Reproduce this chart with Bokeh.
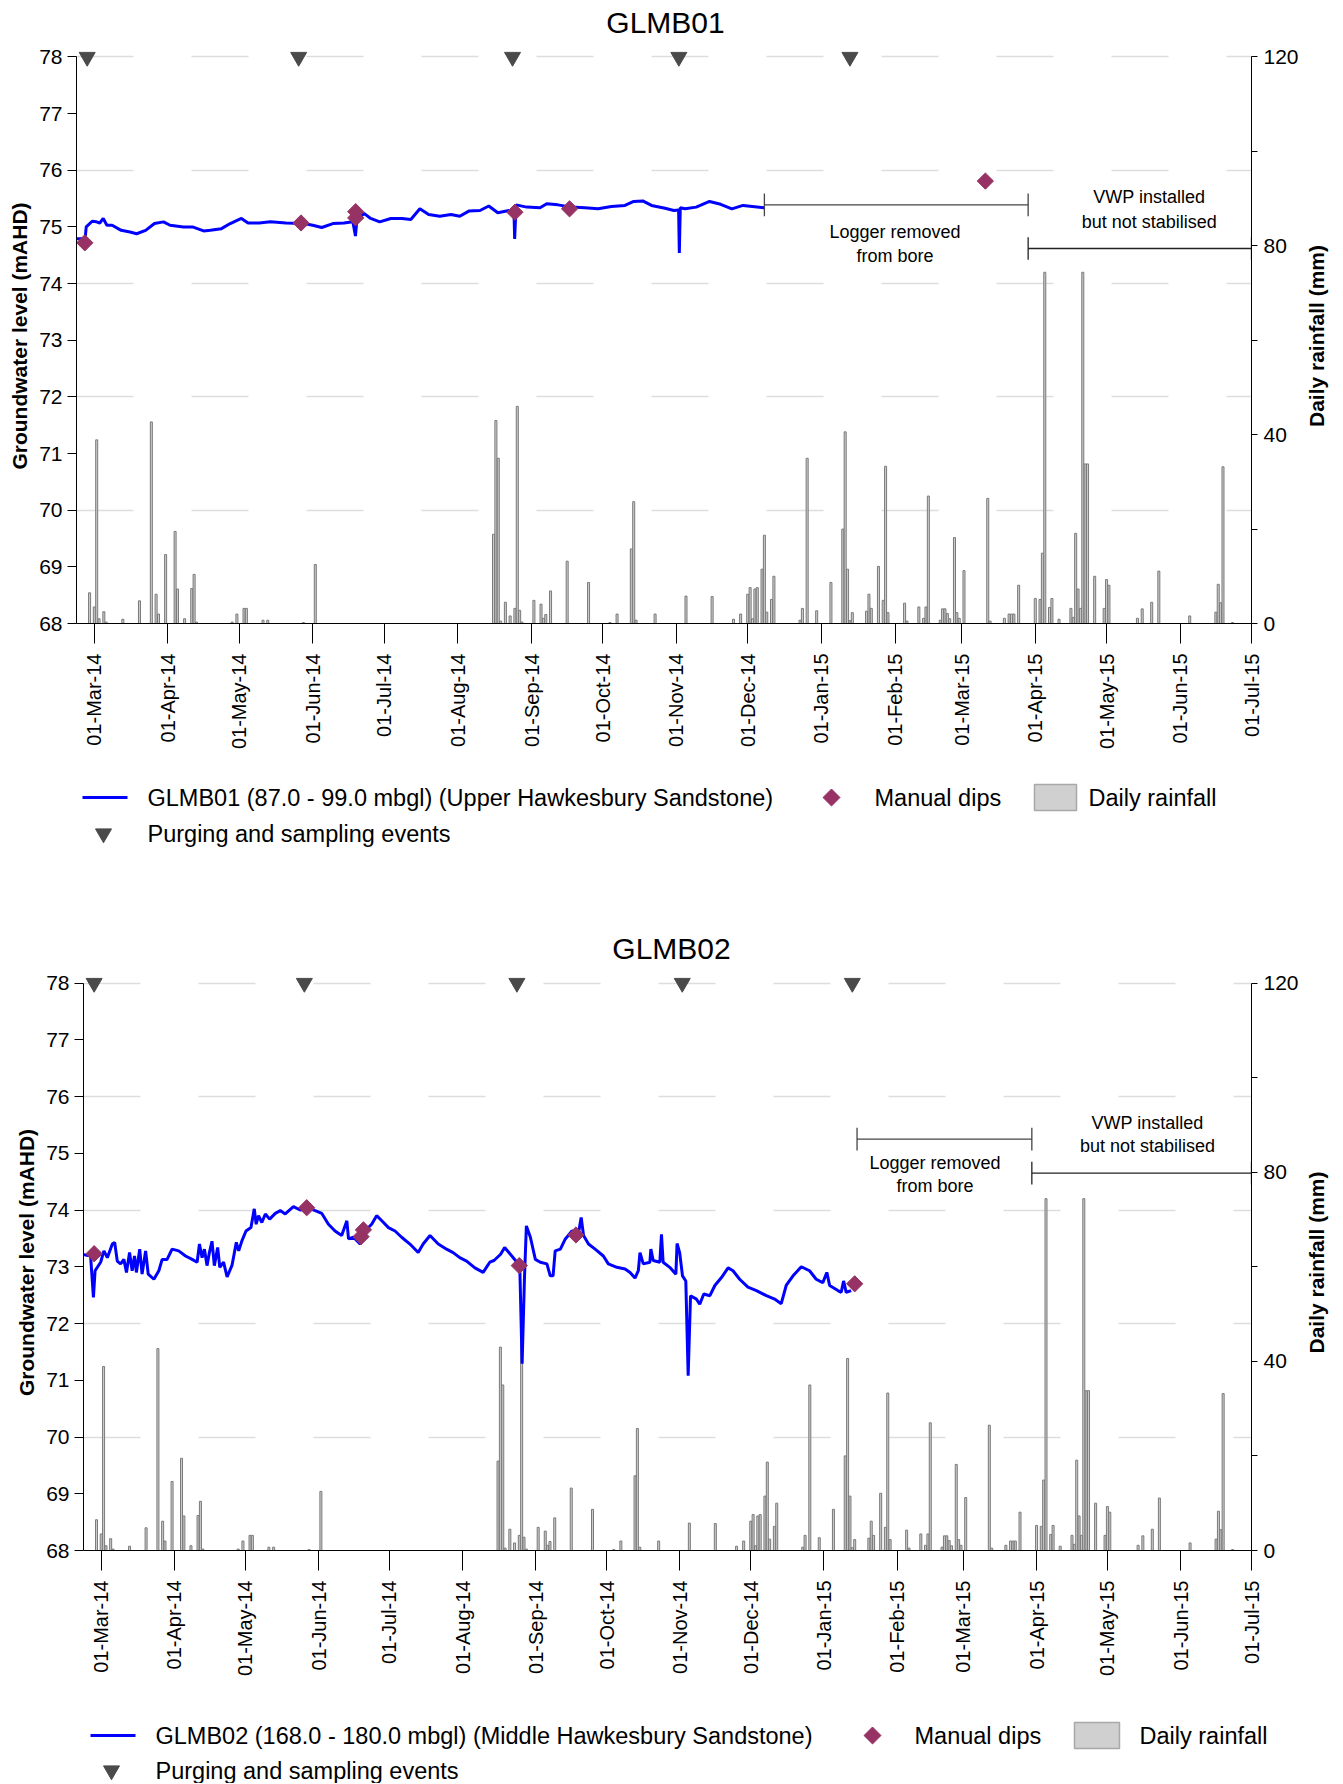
import math

import pandas as pd
from bokeh.core.properties import value
from bokeh.embed import file_html
from bokeh.layouts import row
from bokeh.models import (DatetimeTickFormatter, FixedTicker, LinearAxis, MonthsTicker,
                          Range1d)
from bokeh.plotting import figure
from bokeh.resources import INLINE

FONT = "Liberation Sans"
DAY0 = pd.Timestamp("2014-03-01")  # logger series are stored as days after this date

# Daily rainfall (mm), same record for both bores
RAIN_DATES = [
    "2014-02-27", "2014-03-01", "2014-03-02", "2014-03-03", "2014-03-05", "2014-03-06",
    "2014-03-13", "2014-03-20", "2014-03-25", "2014-03-27", "2014-03-28", "2014-03-31",
    "2014-04-04", "2014-04-05", "2014-04-08", "2014-04-11", "2014-04-12", "2014-04-13",
    "2014-04-28", "2014-04-30", "2014-05-03", "2014-05-04", "2014-05-11", "2014-05-13",
    "2014-05-28", "2014-06-02", "2014-08-16", "2014-08-17", "2014-08-18", "2014-08-19",
    "2014-08-21", "2014-08-23", "2014-08-25", "2014-08-26", "2014-08-27", "2014-08-28",
    "2014-09-02", "2014-09-05", "2014-09-06", "2014-09-07", "2014-09-09", "2014-09-16",
    "2014-09-25", "2014-10-04", "2014-10-07", "2014-10-13", "2014-10-14", "2014-10-15",
    "2014-10-23", "2014-11-05", "2014-11-16", "2014-11-25", "2014-11-28", "2014-12-01",
    "2014-12-02", "2014-12-03", "2014-12-04", "2014-12-05", "2014-12-07", "2014-12-08",
    "2014-12-09", "2014-12-11", "2014-12-12", "2014-12-23", "2014-12-24", "2014-12-26",
    "2014-12-30", "2015-01-05", "2015-01-10", "2015-01-11", "2015-01-12", "2015-01-13",
    "2015-01-14", "2015-01-20", "2015-01-21", "2015-01-22", "2015-01-25", "2015-01-27",
    "2015-01-28", "2015-01-29", "2015-02-05", "2015-02-06", "2015-02-11", "2015-02-13",
    "2015-02-14", "2015-02-15", "2015-02-20", "2015-02-21", "2015-02-22", "2015-02-23",
    "2015-02-24", "2015-02-26", "2015-02-27", "2015-02-28", "2015-03-02", "2015-03-12",
    "2015-03-13", "2015-03-19", "2015-03-21", "2015-03-22", "2015-03-23", "2015-03-25",
    "2015-04-01", "2015-04-03", "2015-04-04", "2015-04-05", "2015-04-07", "2015-04-08",
    "2015-04-11", "2015-04-16", "2015-04-17", "2015-04-18", "2015-04-19", "2015-04-20",
    "2015-04-21", "2015-04-22", "2015-04-23", "2015-04-26", "2015-04-30", "2015-05-01",
    "2015-05-02", "2015-05-14", "2015-05-16", "2015-05-20", "2015-05-23", "2015-06-05",
    "2015-06-16", "2015-06-17", "2015-06-18", "2015-06-19", "2015-06-23",
]
RAIN_MM = [
    6.5, 3.5, 38.9, 1.0, 2.5, 0.3,
    0.9, 4.8, 42.7, 6.2, 2.0, 14.6,
    19.5, 7.3, 1.0, 7.4, 10.4, 0.3,
    0.3, 2.0, 3.2, 3.2, 0.7, 0.7,
    0.2, 12.5, 18.9, 43.0, 35.0, 0.5,
    4.5, 1.6, 3.2, 46.0, 2.8, 0.3,
    4.9, 4.1, 1.1, 1.9, 6.9, 13.2,
    8.7, 0.2, 2.0, 15.8, 25.8, 0.7,
    2.0, 5.8, 5.7, 0.9, 2.0, 6.2,
    7.6, 1.0, 7.3, 7.6, 11.5, 18.7,
    2.4, 5.1, 10.0, 0.7, 3.2, 35.0,
    2.7, 8.7, 20.0, 40.6, 11.5, 0.6,
    2.3, 2.6, 6.2, 3.2, 12.1, 4.9,
    33.3, 2.3, 4.3, 0.5, 3.5, 1.1,
    3.5, 27.0, 0.7, 3.1, 3.1, 2.1,
    1.0, 18.2, 2.3, 1.1, 11.2, 26.5,
    0.5, 1.1, 2.0, 2.0, 2.0, 8.1,
    5.3, 5.1, 14.9, 74.4, 3.4, 5.3,
    0.9, 3.2, 1.3, 19.1, 7.3, 3.2,
    74.4, 33.8, 33.8, 10.0, 3.2, 9.3,
    8.1, 1.1, 3.1, 4.5, 11.1, 1.6,
    2.4, 8.3, 4.4, 33.2, 0.2,
]

EVENT_DATES = ["2014-02-26", "2014-05-26", "2014-08-24", "2014-11-02", "2015-01-13"]

# GLMB01 logger (days after 1 Mar 2014, groundwater level mAHD)
GLMB01_DAYS = [
    -7.5, -3.9, -3.4, -0.9, 0.9, 2.3, 3.75, 5.3, 7.5, 11.3, 15, 17.8, 21.6, 25.3,
    29.1, 31.9, 37.5, 41.3, 46, 48.8, 53.5, 57.2, 61.9, 64.7, 69.4, 74.1, 80.7,
    88.2, 91.9, 95.7, 100.4, 105.1, 108.8, 109.9, 110.5, 113.5, 116.3, 120.1,
    124.8, 129.5, 133.2, 137, 140.7, 145.4, 150.1, 153.8, 157.6, 162.3, 166,
    169.8, 174.5, 176.6, 176.9, 177.5, 182, 187.6, 190.4, 195.1, 200.8, 206.4,
    212, 217.6, 223.3, 227, 230.8, 234.5, 240.2, 243.9, 245.9, 246.2, 246.6,
    248.6, 253.3, 258.9, 263.6, 268.3, 273, 281.9,
]
GLMB01_LEVEL = [
    74.79, 74.79, 75.00, 75.10, 75.09, 75.07, 75.15, 75.03, 75.03, 74.94, 74.91, 74.88, 74.94, 75.06,
    75.09, 75.03, 75.00, 75.00, 74.93, 74.94, 74.97, 75.06, 75.15, 75.07, 75.07, 75.09, 75.07,
    75.06, 75.03, 74.99, 75.06, 75.07, 75.09, 74.84, 75.12, 75.24, 75.15, 75.09,
    75.15, 75.15, 75.13, 75.32, 75.22, 75.19, 75.22, 75.19, 75.28, 75.29, 75.37,
    75.25, 75.29, 75.29, 74.79, 75.39, 75.35, 75.34, 75.41, 75.39, 75.35, 75.34,
    75.32, 75.36, 75.38, 75.45, 75.46, 75.38, 75.33, 75.29, 75.30, 74.54, 75.34,
    75.32, 75.35, 75.45, 75.40, 75.32, 75.38, 75.34,
]
GLMB01_DIP_DATES = ["2014-02-25", "2014-05-27", "2014-06-19", "2014-06-19",
                    "2014-08-25", "2014-09-17", "2015-03-11"]
GLMB01_DIP_LEVEL = [74.72, 75.07, 75.16, 75.27, 75.26, 75.32, 75.81]

# GLMB02 logger (days after 1 Mar 2014, groundwater level mAHD)
GLMB02_DAYS = [
    -8.0, -4.5, -3.3, -2.6, -0.25, 1.15, 2.6, 4.7, 5.7, 6.8, 8.2, 9.6, 10.7, 12.0,
    13.1, 14.1, 14.9, 16.3, 17.3, 18.8, 19.9, 22.3, 24.4, 25.8, 27.9, 30.0, 32.8,
    35.7, 38.5, 40.6, 41.6, 42.7, 43.7, 44.8, 45.8, 46.9, 47.9, 49.3, 50.2, 51.8,
    53.3, 55.4, 57.2, 58.2, 59.6, 61.3, 63.4, 64.8, 65.6, 66.6, 68.0, 69.5, 71.3,
    73.7, 75.8, 77.9, 81.4, 84.2, 87.8, 90.6, 93.4, 96.2, 99.0, 101.8, 104.0,
    104.7, 106.8, 109.6, 112.4, 114.5, 116.6, 118.8, 121.6, 124.4, 127.2, 130.7,
    134.2, 136.3, 139.2, 142.7, 146.2, 149.0, 151.8, 154.7, 158.2, 161.7, 164.5,
    166.3, 169.1, 170.8, 172.6, 175.4, 177.2, 178.2, 179.2, 180.0, 181.7, 183.8,
    185.9, 188.7, 190.1, 191.3, 192.2, 194.4, 196.5, 199.3, 202.1, 203.2, 204.2,
    206.3, 209.1, 212.6, 214.7, 218.3, 221.8, 223.9, 226.0, 227.4, 228.1, 229.5,
    232.3, 232.7, 233.7, 236.5, 237.2, 237.9, 240.7, 243.3, 243.8, 244.9, 246.1,
    247.5, 248.5, 249.5, 252.0, 253.4, 255.1, 257.7, 259.8, 262.6, 265.4, 267.5,
    270.3, 273.8, 277.4, 281.6, 285.1, 287.9, 290.0, 292.9, 296.4, 299.9, 302.7,
    305.5, 307.2, 308.4, 311.9, 313.3, 314.3, 315.4, 317.5,
]
GLMB02_LEVEL = [
    73.22, 73.19, 72.46, 72.93, 73.08, 73.28, 73.16, 73.40, 73.43, 73.10, 73.05, 73.13, 72.90, 73.25,
    72.93, 73.19, 72.90, 73.31, 72.87, 73.28, 72.87, 72.78, 72.93, 73.13, 73.13, 73.31, 73.28,
    73.19, 73.13, 73.08, 73.40, 73.16, 73.31, 73.02, 73.25, 73.45, 73.02, 73.34, 72.99, 73.08,
    72.82, 73.03, 73.43, 73.28, 73.46, 73.63, 73.69, 74.02, 73.75, 73.90, 73.78, 73.93, 73.84,
    73.94, 73.99, 73.93, 74.06, 74.00, 74.03, 73.99, 73.94, 73.75, 73.63, 73.55, 73.81,
    73.49, 73.52, 73.40, 73.66, 73.75, 73.90, 73.81, 73.69, 73.63, 73.52, 73.40,
    73.25, 73.40, 73.55, 73.40, 73.31, 73.25, 73.16, 73.10, 72.98, 72.90, 73.08,
    73.11, 73.22, 73.34, 73.25, 73.11, 73.02, 71.29, 72.81, 73.72, 73.52, 73.13,
    73.08, 73.05, 72.84, 72.84, 73.28, 73.31, 73.49, 73.63, 73.60, 73.87, 73.55,
    73.40, 73.31, 73.19, 73.05, 72.99, 72.96, 72.90, 72.80, 72.93, 73.25, 73.05,
    73.08, 73.31, 73.11, 73.08, 73.57, 73.08, 72.99, 72.87, 73.41, 73.25, 72.84,
    72.75, 71.08, 72.49, 72.43, 72.34, 72.52, 72.49, 72.67, 72.81, 72.98, 72.93,
    72.78, 72.64, 72.58, 72.49, 72.43, 72.35, 72.67, 72.84, 73.00, 72.93, 72.78,
    72.72, 72.90, 72.67, 72.58, 72.55, 72.75, 72.55, 72.58,
]
GLMB02_DIP_DATES = ["2014-02-26", "2014-05-27", "2014-06-19", "2014-06-20",
                    "2014-08-25", "2014-09-18", "2015-01-14"]
GLMB02_DIP_LEVEL = [73.23, 74.04, 73.53, 73.65, 73.02, 73.56, 72.70]

X_START = pd.Timestamp("2014-02-21 12:00")
X_END = pd.Timestamp("2015-07-01")
Y_TOP = 78.15  # a little head-room so the event markers on 78 are not cut
DAY_MS = 86400000
PAGE_W = 1343
SIDE_W = 42     # strip right of each chart that carries the rainfall axis title
TOP = 9         # room above each frame for the top tick label
BOTTOM = 135    # room under each frame for the date labels

LEVEL_COLOR = "#0000ff"
DIP_COLOR = "#963264"
EVENT_COLOR = "#4a4a4a"
BAR_FILL, BAR_LINE = "#cccccc", "#7a7a7a"


def to_dates(days):
    return [DAY0 + pd.Timedelta(days=d) for d in days]


def strip(height, width=PAGE_W, **kw):
    s = figure(width=width, height=height, output_backend="svg", toolbar_location=None,
               tools="", title=None, **kw)
    s.grid.visible = False
    s.outline_line_color = None
    return s


def heading(name, height, centre_x, centre_y):
    t = strip(height, x_range=Range1d(0, PAGE_W), y_range=Range1d(height, 0),
              x_axis_location=None, y_axis_location=None, min_border=0)
    t.text(x=[centre_x], y=[centre_y], text=[name], text_font=value(FONT),
           text_font_size="30px", text_color="black", text_align="center",
           text_baseline="middle")
    return t


def side_title(height):
    # a left axis title reads upwards, as the reference's right-hand title does
    s = strip(height, width=SIDE_W, x_range=Range1d(0, 1), y_range=Range1d(0, 1),
              x_axis_location=None, min_border_left=24, min_border_right=0,
              min_border_top=TOP, min_border_bottom=BOTTOM)
    ya = s.yaxis[0]
    ya.ticker = FixedTicker(ticks=[])
    ya.axis_line_color = None
    ya.major_tick_line_color = None
    ya.minor_tick_line_color = None
    ya.axis_label = "Daily rainfall (mm)"
    ya.axis_label_standoff = 0
    ya.axis_label_text_font = FONT
    ya.axis_label_text_font_size = "21px"
    ya.axis_label_text_font_style = "bold"
    ya.axis_label_text_color = "black"
    return s


def bracket(p, start, end, level, color):
    x0, x1 = pd.Timestamp(start), pd.Timestamp(end)
    p.segment(x0=[x0], y0=[level], x1=[x1], y1=[level], line_color=color, line_width=1.3)
    p.segment(x0=[x0, x1], y0=[level - 0.2] * 2, x1=[x0, x1], y1=[level + 0.2] * 2,
              line_color=color, line_width=1.3)


def note(p, when, levels, lines):
    p.text(x=[pd.Timestamp(when)] * len(lines), y=levels, text=lines,
           text_font=value(FONT), text_font_size="18px", text_color="black",
           text_align="center", text_baseline="middle")


def panel(days, levels, dip_dates, dip_levels, logger_off, logger_y, logger_text,
          vwp_on, vwp_y, vwp_text, left, frame_w, frame_h):
    width = PAGE_W - SIDE_W
    height = TOP + frame_h + BOTTOM
    p = strip(height, width=width, x_axis_type="datetime",
              x_range=Range1d(X_START, X_END), y_range=Range1d(68, Y_TOP),
              min_border_left=left, min_border_right=width - left - frame_w,
              min_border_top=TOP, min_border_bottom=BOTTOM)

    # rainfall on its own scale
    p.extra_y_ranges = {"rain": Range1d(0, 121.8)}
    p.vbar(x=pd.to_datetime(RAIN_DATES), top=RAIN_MM, bottom=0, width=DAY_MS * 0.85,
           y_range_name="rain", fill_color=BAR_FILL, line_color=BAR_LINE, line_width=1)

    p.line(to_dates(days), levels, line_color=LEVEL_COLOR, line_width=3)
    p.scatter(pd.to_datetime(dip_dates), dip_levels, marker="square", angle=math.pi / 4,
              size=11.5, fill_color=DIP_COLOR, line_color=DIP_COLOR)
    p.scatter(pd.to_datetime(EVENT_DATES), [78] * len(EVENT_DATES),
              marker="inverted_triangle", size=16, fill_color=EVENT_COLOR,
              line_color=EVENT_COLOR)

    bracket(p, logger_off, vwp_on, logger_y, "#444444")
    bracket(p, vwp_on, "2015-07-01", vwp_y, "#222222")
    note(p, logger_text[0], logger_text[1], ["Logger removed", "from bore"])
    note(p, vwp_text[0], vwp_text[1], ["VWP installed", "but not stabilised"])

    # axes and grid
    p.xgrid.visible = False
    p.ygrid.visible = True
    p.ygrid.ticker = FixedTicker(ticks=[70, 72, 74, 76, 78])
    p.ygrid.grid_line_color = "#dddddd"
    p.ygrid.grid_line_width = 1.5
    p.ygrid.grid_line_dash = "57 58"

    ax = p.yaxis[0]
    ax.ticker = FixedTicker(ticks=list(range(68, 79)))
    ax.bounds = (68, 78)
    ax.axis_label = "Groundwater level (mAHD)"
    rax = LinearAxis(y_range_name="rain", ticker=FixedTicker(ticks=list(range(0, 121, 20))),
                     bounds=(0, 120), major_label_overrides={20: "", 60: "", 100: ""})
    p.add_layout(rax, "right")
    for a in (ax, rax):
        a.major_tick_in = 0
        a.minor_tick_line_color = None
        a.axis_line_color = "black"
        a.major_label_text_font = FONT
        a.major_label_text_font_size = "21px"
        a.major_label_text_color = "black"
    ax.axis_label_text_font = FONT
    ax.axis_label_text_font_size = "21px"
    ax.axis_label_text_font_style = "bold"
    ax.axis_label_text_color = "black"
    ax.major_tick_out = 9
    ax.major_label_standoff = 5
    ax.axis_label_standoff = 5
    rax.major_tick_out = 6
    rax.major_label_standoff = 6

    xa = p.xaxis[0]
    xa.ticker = MonthsTicker(months=list(range(12)))
    fmt = "%d-%b-%y"
    xa.formatter = DatetimeTickFormatter(days=fmt, months=fmt, years=fmt)
    xa.major_label_orientation = math.pi / 2
    xa.major_tick_in = 0
    xa.major_tick_out = 20
    xa.major_label_standoff = 10
    xa.minor_tick_line_color = None
    xa.major_label_text_font = FONT
    xa.major_label_text_font_size = "20px"
    xa.major_label_text_color = "black"
    return row(p, side_title(height))


def key(well_label, height, rows, spots):
    """Legend drawn as its own strip so the markers keep the plot's shapes."""
    k = strip(height, x_range=Range1d(0, PAGE_W), y_range=Range1d(height, 0),
              x_axis_location=None, y_axis_location=None, min_border=0)
    r1, r2 = rows
    line_x, label_x, dip_x, dip_label_x, box_x, rain_label_x, event_x = spots
    k.line(list(line_x), [r1, r1], line_color=LEVEL_COLOR, line_width=3)
    k.scatter([dip_x], [r1], marker="square", angle=math.pi / 4, size=12,
              fill_color=DIP_COLOR, line_color=DIP_COLOR)
    k.quad(left=[box_x[0]], right=[box_x[1]], top=[r1 - 13], bottom=[r1 + 13],
           fill_color="#d0d0d0", line_color="#a8a8a8", line_width=1.5)
    k.scatter([event_x], [r2], marker="inverted_triangle", size=16,
              fill_color=EVENT_COLOR, line_color=EVENT_COLOR)
    k.text(x=[label_x, dip_label_x, rain_label_x, label_x], y=[r1, r1, r1, r2],
           text=[well_label, "Manual dips", "Daily rainfall", "Purging and sampling events"],
           text_font=value(FONT), text_font_size="23.5px", text_color="black",
           text_align="left", text_baseline="middle")
    return k


t1 = heading("GLMB01", 39, 665, 21.5)
p1 = panel(GLMB01_DAYS, GLMB01_LEVEL, GLMB01_DIP_DATES, GLMB01_DIP_LEVEL,
           "2014-12-08", 75.39, ("2015-02-01", [74.91, 74.48]),
           "2015-03-29", 74.62, ("2015-05-19", [75.52, 75.08]),
           left=76, frame_w=1178, frame_h=575)
k1 = key("GLMB01 (87.0 - 99.0 mbgl) (Upper Hawkesbury Sandstone)", 167, (39, 75),
         ((82, 127), 147, 831, 874, (1034, 1076), 1088, 103))
t2 = heading("GLMB02", 40, 671, 23)
p2 = panel(GLMB02_DAYS, GLMB02_LEVEL, GLMB02_DIP_DATES, GLMB02_DIP_LEVEL,
           "2015-01-15", 75.25, ("2015-02-17", [74.83, 74.43]),
           "2015-03-30", 74.65, ("2015-05-18", [75.54, 75.13]),
           left=83, frame_w=1170, frame_h=576)
k2 = key("GLMB02 (168.0 - 180.0 mbgl) (Middle Hawkesbury Sandstone)", 98, (50, 85),
         ((90, 135), 155, 872, 914, (1074, 1119), 1139, 111))

# separate roots, stacked in page order, so each strip keeps its own borders
open("out.html", "w").write(file_html([t1, p1, k1, t2, p2, k2], INLINE))
